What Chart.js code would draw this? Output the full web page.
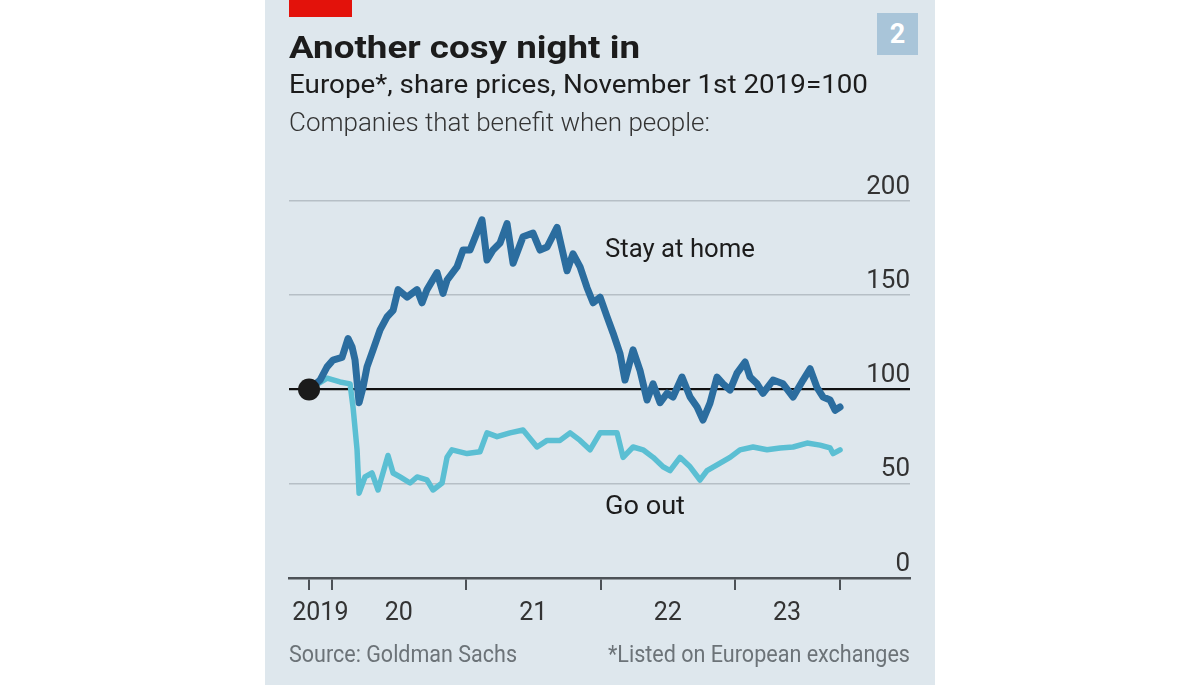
<!DOCTYPE html>
<html>
<head>
<meta charset="utf-8">
<script src="https://cdn.jsdelivr.net/npm/chart.js@4.4.1/dist/chart.umd.min.js"></script>
<style>
  html, body { margin: 0; padding: 0; background: #fff; width: 1200px; height: 685px; overflow: hidden; font-family: Roboto, sans-serif; }
  #panel { position: absolute; left: 265px; top: 0; width: 670px; height: 685px; background: #dee7ed; }
  #chart { position: absolute; left: 0; top: 0; }
  .t { position: absolute; white-space: nowrap; line-height: 1; transform-origin: 0 0; color: #1c1c1c; }
</style>
</head>
<body>
<div id="panel">
  <div style="position:absolute;left:24px;top:0;width:63px;height:17px;background:#e3120b"></div>
  <div style="position:absolute;left:612px;top:13px;width:41px;height:42px;background:#a9c5d9;color:#fff;font:700 27px Roboto;line-height:42px;text-align:center">2</div>
  <canvas id="chart" width="670" height="685"></canvas>
  <div class="t" data-w="351" style="left:24px;top:31px;font-size:32px;font-weight:700">Another cosy night in</div>
  <div class="t" data-w="579" style="left:24px;top:72px;font-size:25px">Europe*, share prices, November 1st 2019=100</div>
  <div class="t" data-w="421" style="left:24px;top:110px;font-size:25px;font-weight:300;color:#333">Companies that benefit when people:</div>
  <div class="t" data-w="150" style="left:340px;top:235px;font-size:26px">Stay at home</div>
  <div class="t" data-w="80" style="left:340px;top:492px;font-size:26px">Go out</div>
  <div class="t" data-w="228" style="left:24px;top:643px;font-size:23px;color:#6c7378">Source: Goldman Sachs</div>
  <div class="t" data-w="302" data-right="645" style="left:343px;top:643px;font-size:23px;color:#6c7378">*Listed on European exchanges</div>
</div>
<script>
// share prices, November 1st 2019 = 100 (x in fractional years)
const stayDates = [2019.833, 2019.915, 2019.967, 2020.011, 2020.078, 2020.123, 2020.153, 2020.175, 2020.205, 2020.234,
  2020.264, 2020.309, 2020.361, 2020.413, 2020.458, 2020.495, 2020.562, 2020.636, 2020.673, 2020.710,
  2020.785, 2020.829, 2020.859, 2020.933, 2020.978, 2021.030, 2021.119, 2021.156, 2021.201, 2021.253,
  2021.305, 2021.350, 2021.424, 2021.498, 2021.550, 2021.603, 2021.677, 2021.751, 2021.796, 2021.848,
  2021.900, 2021.945, 2021.997, 2022.049, 2022.093, 2022.145, 2022.182, 2022.242, 2022.294, 2022.346,
  2022.391, 2022.443, 2022.495, 2022.539, 2022.606, 2022.666, 2022.718, 2022.762, 2022.814, 2022.866,
  2022.911, 2022.963, 2023.015, 2023.075, 2023.112, 2023.164, 2023.208, 2023.283, 2023.357, 2023.432,
  2023.506, 2023.558, 2023.610, 2023.655, 2023.707, 2023.744, 2023.781];
const stayValues = [100, 105, 112, 115.6, 117, 127, 122.5, 115.6, 93, 101,
  112, 121, 131.6, 138.5, 142, 153, 149, 153, 146, 153,
  162, 151, 158, 165, 174, 174, 190, 168.7, 174, 177.7,
  188, 167, 181, 183, 174, 175.6, 186, 163, 172, 165,
  154, 146, 149, 138.5, 130, 119, 105, 121, 110, 94.4,
  103, 93, 98, 96, 106.6, 96, 90.7, 83.8, 92.8, 106.6,
  103, 99.7, 108.7, 114.6, 106.6, 103, 98, 105, 103, 96,
  105, 111, 101, 96, 94.4, 89, 90.7];

const goDates = [2019.833, 2019.967, 2020.063, 2020.138, 2020.160, 2020.190, 2020.205, 2020.249, 2020.301, 2020.346,
  2020.420, 2020.458, 2020.510, 2020.584, 2020.636, 2020.710, 2020.755, 2020.822, 2020.859, 2020.896,
  2021.008, 2021.104, 2021.156, 2021.231, 2021.327, 2021.424, 2021.528, 2021.603, 2021.699, 2021.774,
  2021.848, 2021.922, 2021.997, 2022.123, 2022.168, 2022.242, 2022.316, 2022.391, 2022.465, 2022.517,
  2022.591, 2022.666, 2022.740, 2022.792, 2022.889, 2022.963, 2023.037, 2023.134, 2023.238, 2023.335,
  2023.432, 2023.536, 2023.632, 2023.707, 2023.729, 2023.781];
const goValues = [100, 106, 104, 103, 90.7, 68, 45, 53.6, 55.7, 46.7,
  65, 55.7, 53.6, 50.4, 53.6, 52, 46.7, 50.4, 64, 68,
  66, 67, 77, 75, 77, 78.5, 69.5, 73, 73, 77,
  73, 68, 77, 77, 64, 69.5, 68, 64, 59, 57,
  64, 59, 52, 57, 61, 64, 68, 69.5, 68, 69,
  69.5, 71.6, 70.5, 69, 66, 68];

const baseDate = 2019.833;
const baseValue = 100;

const yTicks = [0, 50, 100, 150, 200];
const yearBounds = [2019.833, 2020, 2021, 2022, 2023, 2023.78];
const yearLabelPos = [2019.917, 2020.5, 2021.5, 2022.5, 2023.387];
const yearLabels = ['2019', '20', '21', '22', '23'];

function pts(xs, ys) {
  return xs.map((x, i) => ({ x: x, y: ys[i] }));
}

document.fonts.ready.then(() => {
  document.querySelectorAll('.t').forEach(el => {
    const w = +el.dataset.w;
    const actual = el.getBoundingClientRect().width;
    el.style.transform = 'scaleX(' + (w / actual) + ')';
    if (el.dataset.right) el.style.left = (+el.dataset.right - w) + 'px';
  });
  drawChart();
});

function drawChart() {
  const ctx = document.getElementById('chart');
  new Chart(ctx, {
    type: 'line',
    data: {
      datasets: [
        {
          label: 'Base',
          data: [{ x: baseDate, y: baseValue }],
          showLine: false,
          pointRadius: 11,
          pointBackgroundColor: '#1b1b1b',
          pointBorderWidth: 0,
        },
        {
          label: 'Stay at home',
          data: pts(stayDates, stayValues),
          borderColor: '#2b6d9f',
          borderWidth: 7,
          pointRadius: 0,
          tension: 0,
          borderJoinStyle: 'round',
          borderCapStyle: 'round',
        },
        {
          label: 'Go out',
          data: pts(goDates, goValues),
          borderColor: '#5bbfd3',
          borderWidth: 5.5,
          pointRadius: 0,
          tension: 0,
          borderJoinStyle: 'round',
          borderCapStyle: 'round',
        },
      ],
    },
    options: {
      responsive: false,
      animation: false,
      layout: { padding: { left: 24, right: 25, top: 201, bottom: 55 } },
      plugins: { legend: { display: false }, tooltip: { enabled: false } },
      scales: {
        x: {
          type: 'linear',
          min: 2019.684,
          max: 2024.301,
          afterBuildTicks: s => { s.ticks = yearBounds.map(v => ({ value: v })); },
          afterFit: s => { s.height = 12; s.paddingLeft = 0; s.paddingRight = 0; },
          ticks: { display: false },
          grid: { drawOnChartArea: false, drawTicks: true, tickLength: 12, color: '#4d5257', lineWidth: 2 },
          border: { display: true, color: '#4d5257', width: 2.5 },
        },
        xl: {
          type: 'linear',
          position: 'bottom',
          min: 2019.684,
          max: 2024.301,
          afterBuildTicks: s => { s.ticks = yearLabelPos.map(v => ({ value: v })); },
          afterFit: s => { s.height = 40; s.paddingLeft = 0; s.paddingRight = 0; },
          ticks: {
            callback: (v, i) => yearLabels[i],
            maxRotation: 0,
            autoSkip: false,
            padding: 9,
            color: '#333',
            font: { family: 'Roboto', size: 25 },
          },
          grid: { display: false, drawTicks: false },
          border: { display: false },
        },
        y: {
          position: 'right',
          min: 0,
          max: 200,
          afterBuildTicks: s => { s.ticks = yTicks.map(v => ({ value: v })); },
          afterFit: s => { s.width = 0; },
          ticks: {
            mirror: true,
            padding: 0,
            labelOffset: -14,
            color: '#333',
            font: { family: 'Roboto', size: 26 },
          },
          grid: {
            drawTicks: false,
            color: c => c.tick.value === 100 ? '#111' : (c.tick.value === 0 ? 'rgba(0,0,0,0)' : '#b6bfc6'),
            lineWidth: c => c.tick.value === 100 ? 2.2 : 1.6,
          },
          border: { display: false },
        },
      },
    },
  });
}
</script>
</body>
</html>
